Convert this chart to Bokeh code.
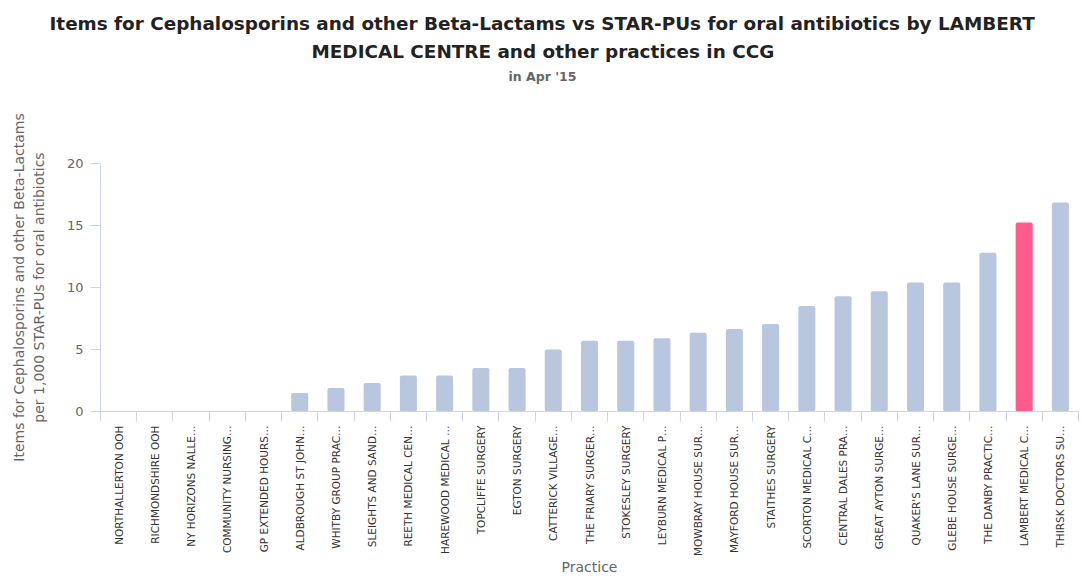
from bokeh.plotting import figure
from bokeh.models import Range1d, FixedTicker, Title
from bokeh.embed import file_html
from bokeh.resources import INLINE
import math

practices = [
    "NORTHALLERTON OOH", "RICHMONDSHIRE OOH", "NY HORIZONS NALLE…", "COMMUNITY NURSING…",
    "GP EXTENDED HOURS…", "ALDBROUGH ST JOHN…", "WHITBY GROUP PRAC…", "SLEIGHTS AND SAND…",
    "REETH MEDICAL CEN…", "HAREWOOD MEDICAL …", "TOPCLIFFE SURGERY", "EGTON SURGERY",
    "CATTERICK VILLAGE…", "THE FRIARY SURGER…", "STOKESLEY SURGERY", "LEYBURN MEDICAL P…",
    "MOWBRAY HOUSE SUR…", "MAYFORD HOUSE SUR…", "STAITHES SURGERY", "SCORTON MEDICAL C…",
    "CENTRAL DALES PRA…", "GREAT AYTON SURGE…", "QUAKER'S LANE SUR…", "GLEBE HOUSE SURGE…",
    "THE DANBY PRACTIC…", "LAMBERT MEDICAL C…", "THIRSK DOCTORS SU…",
]
values = [0, 0, 0, 0, 0, 1.5, 1.9, 2.3, 2.9, 2.9, 3.5, 3.5, 5.0, 5.7, 5.7, 5.9,
          6.35, 6.65, 7.05, 8.5, 9.3, 9.7, 10.4, 10.4, 12.8, 15.25, 16.85]
highlight = "LAMBERT MEDICAL C…"
y_ticks = [0, 5, 10, 15, 20]

base_color = "#b8c7de"
hl_color = "#ff5c8d"
font = "DejaVu Sans"

n = len(practices)
xs = [i + 0.5 for i in range(n)]
colors = [hl_color if name == highlight else base_color for name in practices]

p = figure(width=1082, height=578, output_backend="svg", toolbar_location=None,
           x_range=Range1d(0, n), y_range=Range1d(0, 20),
           min_border_left=100, min_border_right=4, min_border_top=163, min_border_bottom=166)
p.outline_line_color = None
p.xgrid.visible = False
p.ygrid.visible = False

p.vbar(x=xs, top=values, width=0.47, bottom=0, fill_color=colors, line_color=None,
       border_radius=2)

# x axis
xa = p.xaxis[0]
xa.ticker = FixedTicker(ticks=xs, minor_ticks=list(range(n + 1)))
xa.major_label_overrides = {x: name for x, name in zip(xs, practices)}
xa.major_label_orientation = math.pi / 2
xa.major_tick_line_color = None
xa.major_tick_out = 10
xa.major_tick_in = 0
xa.minor_tick_out = 10
xa.minor_tick_in = 0
xa.minor_tick_line_color = "#ccd6eb"
xa.axis_line_color = "#ccd6eb"
xa.major_label_standoff = 4
xa.major_label_text_font = font
xa.major_label_text_font_size = "10.5px"
xa.major_label_text_color = "#333333"
xa.axis_label = "Practice"
xa.axis_label_text_font = font
xa.axis_label_text_font_style = "normal"
xa.axis_label_text_font_size = "14px"
xa.axis_label_text_color = "#666666"
xa.axis_label_standoff = 0

# y axis
ya = p.yaxis[0]
ya.ticker = FixedTicker(ticks=y_ticks)
ya.minor_tick_line_color = None
ya.major_tick_out = 10
ya.major_tick_in = 0
ya.major_tick_line_color = "#ccd6eb"
ya.axis_line_color = "#ccd6eb"
ya.major_label_standoff = 7
ya.major_label_text_font = font
ya.major_label_text_font_size = "13px"
ya.major_label_text_color = "#666666"
ya.axis_label = "Items for Cephalosporins and other Beta-Lactams\nper 1,000 STAR-PUs for oral antibiotics"
ya.axis_label_text_font = font
ya.axis_label_text_font_style = "normal"
ya.axis_label_text_font_size = "14px"
ya.axis_label_text_line_height = 1.25
ya.axis_label_text_color = "#666666"
ya.axis_label_standoff = 17

spacer = Title(text=" ", align="center", text_font=font, text_font_size="13px", standoff=58)
sub = Title(text="in Apr '15", align="left", text_font=font, text_font_size="12.5px",
            text_font_style="bold", text_color="#666666", standoff=9, offset=408)
t2 = Title(text="MEDICAL CENTRE and other practices in CCG", align="left", text_font=font,
           text_font_size="18.4px", text_font_style="bold", text_color="#222222", standoff=1,
           offset=211)
t1 = Title(text="Items for Cephalosporins and other Beta-Lactams vs STAR-PUs for oral antibiotics by LAMBERT",
           align="left", text_font=font, text_font_size="18.4px", text_font_style="bold",
           text_color="#222222", standoff=9, offset=-51)
p.add_layout(spacer, "above")
p.add_layout(sub, "above")
p.add_layout(t2, "above")
p.add_layout(t1, "above")

open("out.html", "w").write(file_html(p, INLINE))
